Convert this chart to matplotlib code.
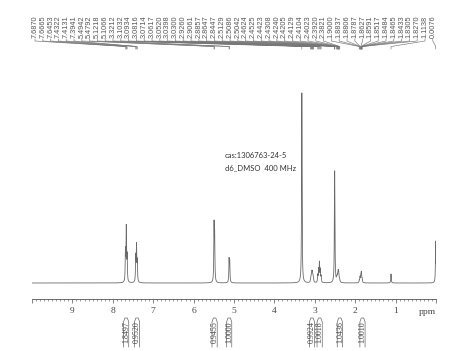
import numpy as np
import matplotlib
matplotlib.use('Agg')
import matplotlib.pyplot as plt
from matplotlib import transforms

W, H = 474, 351

# peak list (ppm) and apparent line heights above baseline
shifts = [7.6870, 7.6665, 7.6453, 7.4322, 7.4131, 7.3941,
          5.4942, 5.4792, 5.1218, 5.1066,
          3.3212,
          3.1032, 3.0934, 3.0816, 3.0714, 3.0617, 3.0520, 3.0398, 3.0300,
          2.9260, 2.9061, 2.8857, 2.8647, 2.8447,
          2.5129, 2.5086, 2.5042,
          2.4624, 2.4525, 2.4423, 2.4308, 2.4240, 2.4205, 2.4129, 2.4104,
          2.4023, 2.3920, 2.3821,
          1.9000, 1.8837, 1.8806, 1.8787, 1.8627, 1.8591, 1.8517, 1.8484,
          1.8465, 1.8433, 1.8305, 1.8270,
          1.1138, 0.0076]
heights = [30, 53, 25, 25, 35, 20,
           55, 44, 22, 20,
           190,
           3, 4, 6, 7, 7, 5, 4, 2,
           7, 12, 19, 12, 6,
           20, 83, 20,
           2, 3, 4, 4, 4, 4, 4, 4,
           3, 2, 2,
           2, 2, 2, 2, 3, 3, 3, 3,
           3, 2, 2, 2,
           9, 42]

# integrals
int_labels = ['1.8497', '0.9520', '0.9455', '1.0000',
              '0.9924', '1.0018', '1.0436', '1.0010']
int_center = [7.67, 7.40, 5.48, 5.12, 3.07, 2.88, 2.38, 1.82]

x_lo, x_hi = 10.0, 0.0
px_per_ppm = 404 / 10.0

fig = plt.figure(figsize=(W / 100, H / 100), dpi=100)
ax = fig.add_axes([32 / W, 1 - 299 / H, 404 / W, 248 / H])

ppm = np.linspace(x_lo, x_hi, 40001)
spec = np.zeros_like(ppm)
hw = 0.007
for s, h in zip(shifts, heights):
    spec += h / (1 + ((ppm - s) / hw) ** 2)
ax.plot(ppm, spec, color='#6a6a6a', lw=0.6)

ax.set_xlim(x_lo, x_hi)
ax.set_ylim(-16, 232)
for sp in ['top', 'left', 'right']:
    ax.spines[sp].set_visible(False)
ax.spines['bottom'].set_color('#555555')
ax.spines['bottom'].set_linewidth(0.6)
ax.set_yticks([])
ax.set_xticks(np.arange(0, 11))
ax.set_xticklabels([''] + [str(i) for i in range(1, 10)] + [''],
                   family='Liberation Serif', fontsize=6.8, color='#444444')
ax.set_xticks(np.arange(0, 10.01, 0.1), minor=True)
ax.tick_params(axis='x', which='major', length=3, width=0.5, color='#555555', pad=3)
ax.tick_params(axis='x', which='minor', length=1.6, width=0.4, color='#555555')
ax.text(0.22, -0.054, 'ppm', transform=transforms.blended_transform_factory(ax.transData, ax.transAxes),
        family='Liberation Serif', fontsize=6.8, color='#444444', ha='center', va='center')

# x in data, y in pixels from top
bt = transforms.blended_transform_factory(ax.transData, fig.transFigure)
def fy(y):
    return 1 - y / H

def px2ppm(x):
    return x_lo - (x - 32) / px_per_ppm

# peak labels at top
for i, s in enumerate(shifts):
    lx = px2ppm(35 + i * 7.8)
    ax.text(lx, fy(38), f'{s:.4f}', transform=bt, rotation=90, ha='center', va='bottom',
            family='Liberation Sans', fontsize=5.3, color='#555555', clip_on=False)
    ax.plot([lx, lx, s, s], [fy(39), fy(41), fy(46.5), fy(49)], transform=bt,
            color='#777777', lw=0.45, clip_on=False)

# integral brackets at bottom
for lab, c in zip(int_labels, int_center):
    legs = 2.6 / px_per_ppm
    top = 1.2 / px_per_ppm
    xs = [c + legs, c + legs, c + top, c - top, c - legs, c - legs]
    ys = [fy(347), fy(322), fy(318), fy(318), fy(322), fy(347)]
    ax.plot(xs, ys, transform=bt, color='#666666', lw=0.5, clip_on=False)
    ax.text(c, fy(332.5), lab, transform=bt, rotation=90, ha='center', va='center',
            family='Liberation Serif', fontsize=5.8, color='#444444', clip_on=False)

fig.text(225 / W, fy(156), 'cas:1306763-24-5', family='Lato', fontsize=5.5,
         color='#333333', ha='left', va='center')
fig.text(225 / W, fy(167.5), 'd6_DMSO  400 MHz', family='Lato', fontsize=5.5,
         color='#333333', ha='left', va='center')

fig.savefig('out.png', dpi=100)
